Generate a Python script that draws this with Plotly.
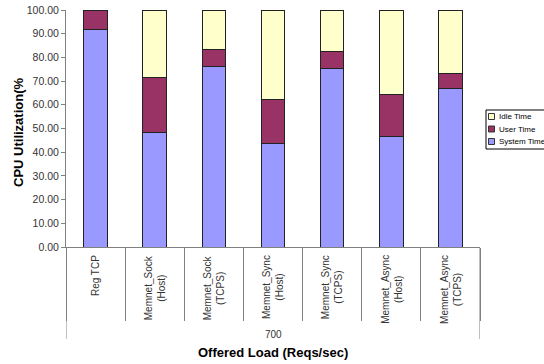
import plotly.graph_objects as go

# Stacked CPU utilization breakdown at an offered load of 700 req/s
categories = [
    "Reg TCP",
    "Memnet_Sock<br>(Host)",
    "Memnet_Sock<br>(TCPS)",
    "Memnet_Sync<br>(Host)",
    "Memnet_Sync<br>(TCPS)",
    "Memnet_Async<br>(Host)",
    "Memnet_Async<br>(TCPS)",
]
system_time = [91.6, 48.2, 76.1, 43.6, 75.4, 46.7, 66.7]
user_time = [8.4, 23.5, 7.1, 18.6, 7.3, 17.6, 6.3]
idle_time = [0.0, 28.3, 16.8, 37.8, 17.3, 35.7, 27.0]
group_label = "700"

FONT = "Arial, Liberation Sans, sans-serif"
W, H = 544, 364
ML, MR, MT, MB = 66, 64, 10, 117
PW, PH = W - ML - MR, H - MT - MB


def px(x):
    return (x - ML) / PW


def py(y):
    return (H - MB - y) / PH


x_idx = list(range(len(categories)))
series = [
    ("System Time", system_time, "#9999FF"),
    ("User Time", user_time, "#993366"),
    ("Idle Time", idle_time, "#FFFFCC"),
]

fig = go.Figure()
for name, vals, color in series:
    fig.add_trace(go.Bar(
        x=x_idx, y=vals, name=name, showlegend=False,
        marker=dict(color=color, line=dict(color="#222222", width=1)),
        width=0.4,
    ))

# Rotated category labels beneath the axis
for i, label in enumerate(categories):
    fig.add_annotation(
        x=i, xref="x", y=0, yref="paper", yshift=-6,
        text=label, textangle=-90, showarrow=False,
        xanchor="center", yanchor="top", align="center",
        font=dict(family=FONT, size=10, color="#333333"),
    )

# Group label and its enclosing side lines
fig.add_annotation(
    x=0.5, xref="paper", y=0, yref="paper", yshift=-87,
    text=group_label, showarrow=False, yanchor="middle",
    font=dict(family=FONT, size=10, color="#333333"),
)
for xb in (-0.5, len(categories) - 0.5):
    fig.add_shape(
        type="line", xref="x", yref="paper", x0=xb, x1=xb,
        y0=0, y1=py(339), line=dict(color="#808080", width=1),
    )

fig.add_annotation(
    x=0.5, xref="paper", y=py(353), yref="paper",
    text="<b>Offered Load (Reqs/sec)</b>", showarrow=False, yanchor="middle",
    font=dict(family=FONT, size=13, color="#000000"),
)
fig.add_annotation(
    x=px(18), xref="paper", y=py(133), yref="paper",
    text="<b>CPU Utilization(%</b>", textangle=-90, showarrow=False,
    xanchor="center", yanchor="middle",
    font=dict(family=FONT, size=13, color="#000000"),
)

# Legend box: top entry is the top of the stack
fig.add_shape(
    type="rect", xref="paper", yref="paper",
    x0=px(486), x1=px(545), y0=py(110), y1=py(149),
    line=dict(color="#000000", width=1), fillcolor="white",
)
for k, (name, _, color) in enumerate(reversed(series)):
    yc = 116.5 + 12.5 * k
    fig.add_shape(
        type="rect", xref="paper", yref="paper",
        x0=px(488.5), x1=px(494.5), y0=py(yc - 3), y1=py(yc + 3),
        line=dict(color="#333333", width=1), fillcolor=color,
    )
    fig.add_annotation(
        x=px(496.5), xref="paper", y=py(yc), yref="paper",
        text=name, showarrow=False, xanchor="left", yanchor="middle",
        font=dict(family=FONT, size=8, color="#000000"),
    )

fig.update_layout(
    width=W, height=H,
    margin=dict(l=ML, r=MR, t=MT, b=MB, autoexpand=False),
    paper_bgcolor="white", plot_bgcolor="white",
    barmode="stack",
    showlegend=False,
    xaxis=dict(
        range=[-0.5, len(categories) - 0.5],
        tickmode="array", tickvals=[i - 0.5 for i in x_idx] + [len(categories) - 0.5],
        ticktext=[""] * (len(categories) + 1),
        ticks="outside", ticklen=73, tickcolor="#808080", tickwidth=1,
        showline=True, linecolor="#808080", linewidth=1,
        showgrid=False, zeroline=False,
    ),
    yaxis=dict(
        range=[0, 100], dtick=10, tickformat=".2f",
        ticks="outside", ticklen=4, tickcolor="#808080",
        showline=True, linecolor="#808080", linewidth=1,
        showgrid=False, zeroline=False,
        tickfont=dict(family=FONT, size=10.5, color="#333333"),
    ),
)

fig.write_html("out.html")
